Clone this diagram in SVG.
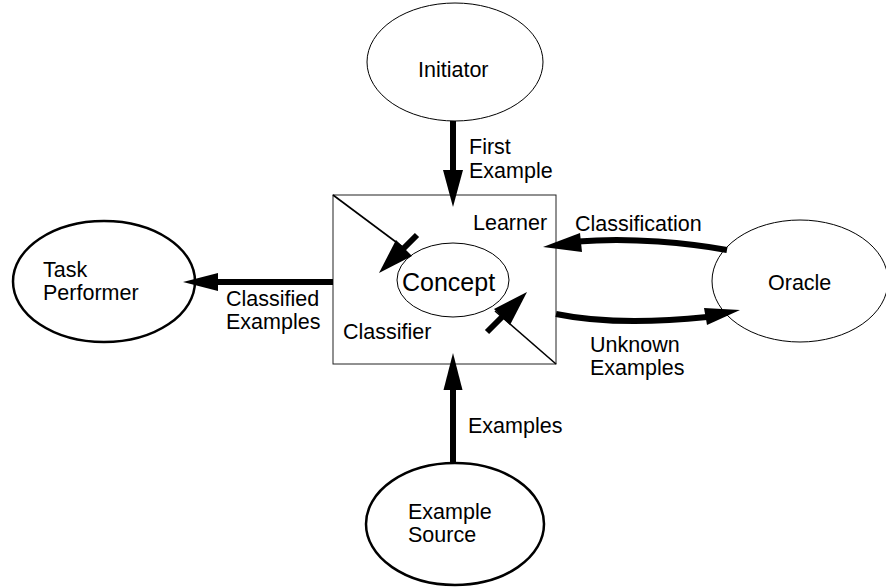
<svg xmlns="http://www.w3.org/2000/svg" width="886" height="588" viewBox="0 0 886 588">
  <style>
    text { font-family: "Liberation Sans", Arial, sans-serif; font-size: 21.5px; fill: #000; }
    .thin { fill: #fff; stroke: #000; stroke-width: 1; }
    .thick { fill: #fff; stroke: #000; stroke-width: 2.5; }
    .flow { fill: none; stroke: #000; stroke-width: 6; }
    .diag { fill: none; stroke: #000; stroke-width: 1.6; }
    .head { fill: #000; stroke: none; }
  </style>

  <!-- central learner / classifier box -->
  <g id="learner-box">
    <rect x="333" y="195" width="223" height="169" fill="#fff" stroke="#222" stroke-width="1"/>
    <line class="diag" x1="333" y1="195" x2="404" y2="248"/>
    <line class="diag" x1="556" y1="364" x2="495" y2="311"/>
    <text x="473" y="230">Learner</text>
    <text x="343" y="339">Classifier</text>
  </g>

  <g id="concept">
    <ellipse class="thin" cx="453" cy="280" rx="56" ry="37"/>
    <text x="402" y="291" style="font-size:25px">Concept</text>
  </g>

  <g id="initiator">
    <ellipse class="thin" cx="455" cy="62" rx="88" ry="59"/>
    <text x="418" y="77">Initiator</text>
  </g>

  <g id="task-performer">
    <ellipse class="thick" cx="104" cy="281.5" rx="91" ry="60.5"/>
    <text x="43" y="277">Task</text>
    <text x="43" y="300">Performer</text>
  </g>

  <g id="oracle">
    <ellipse class="thin" cx="800" cy="281" rx="88" ry="61"/>
    <text x="768" y="290">Oracle</text>
  </g>

  <g id="example-source">
    <ellipse class="thick" cx="455" cy="524" rx="89" ry="61"/>
    <text x="408" y="519">Example</text>
    <text x="408" y="542">Source</text>
  </g>

  <!-- connectors -->
  <g id="connectors">
    <!-- Initiator -> box -->
    <line class="flow" x1="453" y1="121" x2="453" y2="172"/>
    <polygon class="head" points="443,170 463,170 453,207"/>
    <text x="469" y="154">First</text>
    <text x="469" y="178">Example</text>

    <!-- Example Source -> box -->
    <line class="flow" x1="453" y1="463" x2="453" y2="388"/>
    <polygon class="head" points="443.5,390 462.5,390 453,353"/>
    <text x="468" y="433">Examples</text>

    <!-- box -> Task Performer -->
    <line class="flow" x1="333" y1="282" x2="216" y2="282"/>
    <polygon class="head" points="218,273 218,291 183,282"/>
    <text x="226" y="306">Classified</text>
    <text x="226" y="329">Examples</text>

    <!-- Oracle -> box -->
    <path class="flow" d="M727,250 C690,243 630,237 578,241.5"/>
    <polygon class="head" points="580,233 582,252 543,247"/>
    <text x="575" y="231">Classification</text>

    <!-- box -> Oracle -->
    <path class="flow" d="M556,314 C590,321 640,324 707,317"/>
    <polygon class="head" points="704,308 707,325 740,310"/>
    <text x="590" y="352">Unknown</text>
    <text x="590" y="375">Examples</text>

    <!-- learner diagonal -> concept -->
    <line class="flow" x1="417" y1="235" x2="402" y2="250"/>
    <polygon class="head" points="396,240 412,256 379,273"/>

    <!-- classifier diagonal <- concept -->
    <line class="flow" x1="487" y1="332" x2="504" y2="315"/>
    <polygon class="head" points="494,309 510,325 527,292"/>
  </g>
</svg>
